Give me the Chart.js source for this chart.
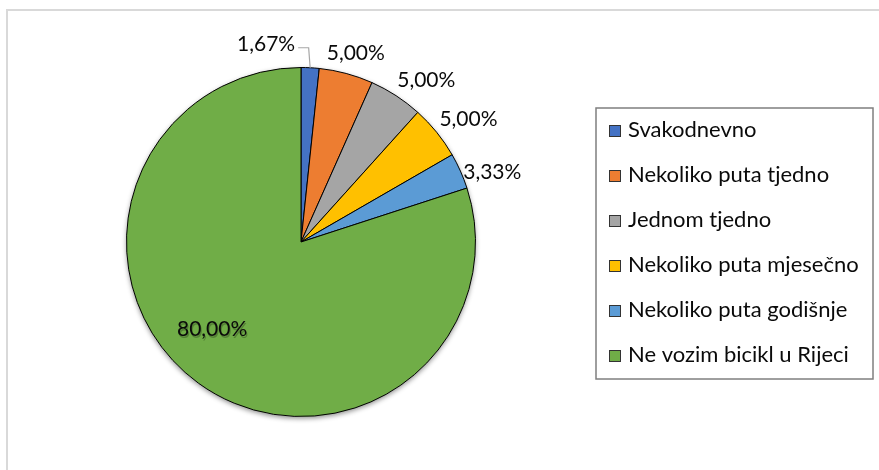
<!DOCTYPE html>
<html>
<head>
<meta charset="utf-8">
<script src="https://cdn.jsdelivr.net/npm/chart.js@4/dist/chart.umd.min.js"></script>
<style>
  html, body { margin: 0; padding: 0; background: #fff; }
  canvas { display: block; }
</style>
</head>
<body>
<canvas id="c" width="879" height="470"></canvas>
<script>
const categories = [
  "Svakodnevno",
  "Nekoliko puta tjedno",
  "Jednom tjedno",
  "Nekoliko puta mjesečno",
  "Nekoliko puta godišnje",
  "Ne vozim bicikl u Rijeci"
];
const values = [1.67, 5.00, 5.00, 5.00, 3.33, 80.00];
const valueLabels = ["1,67%", "5,00%", "5,00%", "5,00%", "3,33%", "80,00%"];
const colors = ["#4472C4", "#ED7D31", "#A5A5A5", "#FFC000", "#5B9BD5", "#70AD47"];

const FONT = "Lato, 'Open Sans', sans-serif";
const TEXT = "#0a0a0a";

const frame = {
  id: "frame",
  beforeDraw(chart) {
    const ctx = chart.ctx;
    ctx.save();
    ctx.fillStyle = "#fff";
    ctx.fillRect(0, 0, chart.width, chart.height);
    ctx.strokeStyle = "#d9d9d9";
    ctx.lineWidth = 2;
    ctx.strokeRect(7, 10, chart.width + 20, chart.height + 20);
    ctx.restore();
  },
  beforeDatasetsDraw(chart) {
    const arc = chart.getDatasetMeta(0).data[0];
    const ctx = chart.ctx;
    ctx.save();
    ctx.beginPath();
    ctx.arc(arc.x, arc.y, arc.outerRadius, 0, Math.PI * 2);
    ctx.shadowColor = "rgba(0,0,0,0.45)";
    ctx.shadowBlur = 5;
    ctx.shadowOffsetY = 2;
    ctx.fillStyle = "#fff";
    ctx.fill();
    ctx.restore();
  }
};

const labelsPlugin = {
  id: "sliceLabels",
  afterDatasetsDraw(chart, args, opts) {
    const ctx = chart.ctx;
    const meta = chart.getDatasetMeta(0);
    const nudges = opts.nudges;
    ctx.save();
    ctx.font = "21px " + FONT;
    ctx.textBaseline = "middle";
    meta.data.forEach((el, i) => {
      const txt = valueLabels[i];
      const mid = (el.startAngle + el.endAngle) / 2;
      const R = el.outerRadius;
      const w = ctx.measureText(txt).width;
      const n = nudges[i] || [0, 0];
      ctx.fillStyle = TEXT;
      ctx.textAlign = "center";
      if (values[i] > 50) {
        const x = el.x + Math.cos(mid) * R * 0.72 + n[0];
        const y = el.y + Math.sin(mid) * R * 0.72 + n[1];
        ctx.save();
        ctx.fillStyle = "rgba(0,0,0,0.25)";
        ctx.fillText(txt, x + 1, y + 2);
        ctx.restore();
        ctx.fillText(txt, x, y);
      } else if (i === 0) {
        const ex = el.x + Math.cos(mid) * R;
        const ey = el.y + Math.sin(mid) * R;
        const ly = ey - 20;
        ctx.strokeStyle = "#a6a6a6";
        ctx.lineWidth = 1.2;
        ctx.beginPath();
        ctx.moveTo(ex, ey);
        ctx.lineTo(ex - 1.5, ly);
        ctx.lineTo(ex - 12, ly);
        ctx.stroke();
        ctx.textAlign = "right";
        ctx.fillText(txt, ex - 15 + n[0], ly - 4 + n[1]);
      } else {
        const ax = el.x + Math.cos(mid) * (R + 8);
        const ay = el.y + Math.sin(mid) * (R + 8);
        const x = ax + Math.cos(mid) * w / 2 + n[0];
        const y = ay + Math.sin(mid) * 10 + n[1];
        ctx.fillText(txt, x, y);
      }
    });
    ctx.restore();
  }
};

const boxLegend = {
  id: "boxLegend",
  afterDraw(chart, args, opts) {
    const ctx = chart.ctx;
    const ds = chart.data.datasets[0];
    ctx.save();
    ctx.strokeStyle = "#7f7f7f";
    ctx.lineWidth = 1.5;
    ctx.strokeRect(opts.x, opts.y, opts.w, opts.h);
    ctx.font = "22px " + FONT;
    ctx.textBaseline = "middle";
    ctx.textAlign = "left";
    chart.data.labels.forEach((lab, i) => {
      const cy = opts.y + opts.first + i * opts.step;
      ctx.fillStyle = ds.backgroundColor[i];
      ctx.fillRect(opts.x + 13, cy - 5, 12, 12);
      ctx.strokeStyle = "#333";
      ctx.lineWidth = 1;
      ctx.strokeRect(opts.x + 13.5, cy - 4.5, 11, 11);
      ctx.fillStyle = TEXT;
      ctx.fillText(lab, opts.x + 32, cy);
    });
    ctx.restore();
  }
};

new Chart(document.getElementById("c"), {
  type: "pie",
  data: {
    labels: categories,
    datasets: [{
      data: values,
      backgroundColor: colors,
      borderColor: "#000",
      borderWidth: 1
    }]
  },
  options: {
    responsive: false,
    animation: false,
    devicePixelRatio: 1,
    layout: { padding: { left: 126, right: 403, top: 67, bottom: 53 } },
    plugins: {
      legend: { display: false },
      tooltip: { enabled: false },
      sliceLabels: { nudges: [[0, 0], [0, -3], [10, 0], [3, -2], [-2, 9], [-15, -14]] },
      boxLegend: { x: 596, y: 108, w: 277, h: 271, first: 22, step: 45 }
    }
  },
  plugins: [frame, labelsPlugin, boxLegend]
});
</script>
</body>
</html>
